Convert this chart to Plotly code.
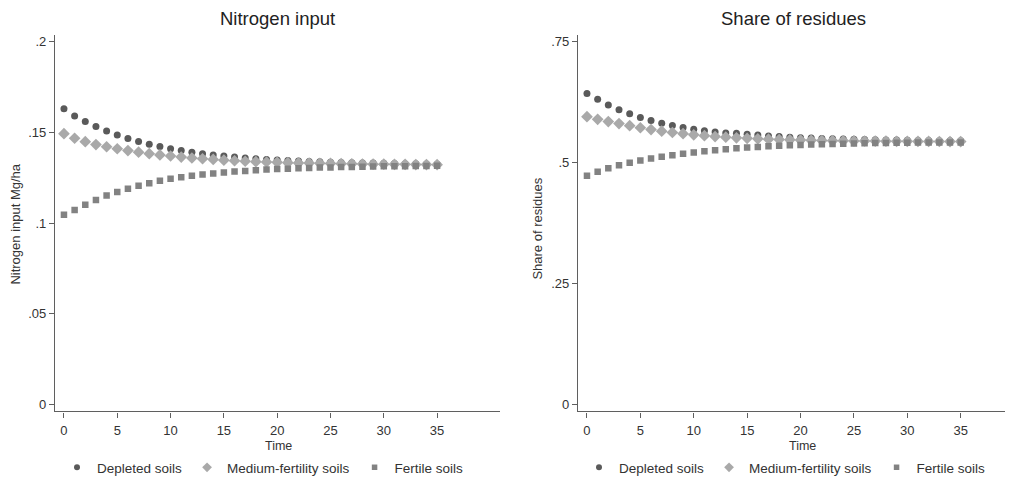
import plotly.graph_objects as go

time = list(range(36))

# Nitrogen input (Mg/ha)
n_depleted = [0.163, 0.159, 0.156, 0.1533, 0.1508, 0.1486, 0.1467, 0.145, 0.1435, 0.1422,
              0.141, 0.14, 0.1391, 0.1383, 0.1376, 0.137, 0.1364, 0.1359, 0.1355, 0.1351,
              0.1348, 0.1345, 0.1342, 0.134, 0.1338, 0.1336, 0.1334, 0.1333, 0.1332, 0.1331,
              0.133, 0.1329, 0.1328, 0.1327, 0.1326, 0.1325]
n_medium = [0.1493, 0.1468, 0.1449, 0.1433, 0.1421, 0.141, 0.14, 0.1391, 0.1383, 0.1376,
            0.137, 0.1364, 0.1359, 0.1355, 0.1351, 0.1347, 0.1344, 0.1341, 0.1339, 0.1337,
            0.1335, 0.1333, 0.1332, 0.1331, 0.133, 0.1329, 0.1328, 0.1327, 0.1326, 0.1325,
            0.1325, 0.1324, 0.1324, 0.1323, 0.1323, 0.1322]
n_fertile = [0.1046, 0.1073, 0.1101, 0.1128, 0.1152, 0.1172, 0.119, 0.1206, 0.122, 0.1233,
             0.1244, 0.1253, 0.1261, 0.1268, 0.1274, 0.1279, 0.1284, 0.1288, 0.1292, 0.1295,
             0.1298, 0.13, 0.1302, 0.1304, 0.1306, 0.1307, 0.1309, 0.131, 0.1311, 0.1312,
             0.1313, 0.1314, 0.1314, 0.1315, 0.1315, 0.1316]

# Share of residues
s_depleted = [0.643, 0.631, 0.6195, 0.6095, 0.601, 0.5935, 0.587, 0.5815, 0.5768, 0.5728,
              0.5693, 0.5663, 0.5637, 0.5614, 0.561, 0.5589, 0.557, 0.5554, 0.554, 0.5528,
              0.5518, 0.5509, 0.5501, 0.5494, 0.5488, 0.5483, 0.5478, 0.5474, 0.547, 0.5467,
              0.5464, 0.5461, 0.5458, 0.5456, 0.5454, 0.5452]
s_medium = [0.5952, 0.5897, 0.585, 0.5808, 0.5765, 0.5722, 0.5685, 0.5652, 0.5624, 0.5599,
            0.5577, 0.5558, 0.5541, 0.5527, 0.5514, 0.5503, 0.5494, 0.5486, 0.5479, 0.5473,
            0.5468, 0.5463, 0.5459, 0.5456, 0.5453, 0.545, 0.5448, 0.5446, 0.5444, 0.5442,
            0.5441, 0.544, 0.5439, 0.5438, 0.5437, 0.5436]
s_fertile = [0.4732, 0.4814, 0.4884, 0.4947, 0.5, 0.5045, 0.5086, 0.5123, 0.5155, 0.5184,
             0.5212, 0.5237, 0.5259, 0.5279, 0.5296, 0.5312, 0.5326, 0.5338, 0.5349, 0.5359,
             0.5367, 0.5375, 0.5382, 0.5388, 0.5393, 0.5398, 0.5402, 0.5405, 0.5408, 0.5411,
             0.5413, 0.5415, 0.5417, 0.5418, 0.5419, 0.542]

series_names = ["Depleted soils", "Medium-fertility soils", "Fertile soils"]
series_colors = ["#5a5a5a", "#a9a9a9", "#828282"]
series_symbols = ["circle", "diamond", "square"]
series_sizes = [7, 9, 6.5]
legend_sizes = [6, 7.5, 5.5]

left_tickvals = [0, 0.05, 0.1, 0.15, 0.2]
left_ticktext = ["0", ".05", ".1", ".15", ".2"]
right_tickvals = [0, 0.25, 0.5, 0.75]
right_ticktext = ["0", ".25", ".5", ".75"]
x_tickvals = [0, 5, 10, 15, 20, 25, 30, 35]

# page body has an 8px margin; figure sized to fill the rest of the window
OFF = 8
W, H = 1013 - OFF, 483 - OFF
FONT = "Liberation Sans, Arial, sans-serif"


def px(x):
    return (x - OFF) / W


def py(y):
    return 1 - (y - OFF) / H


fig = go.Figure()

left_data = [n_depleted, n_medium, n_fertile]
right_data = [s_depleted, s_medium, s_fertile]

for i in range(3):
    fig.add_trace(go.Scatter(
        x=time, y=left_data[i], mode="markers", name=series_names[i], showlegend=False,
        marker=dict(symbol=series_symbols[i], color=series_colors[i], size=series_sizes[i]),
        xaxis="x", yaxis="y"))
for i in range(3):
    fig.add_trace(go.Scatter(
        x=time, y=right_data[i], mode="markers", name=series_names[i], showlegend=False,
        marker=dict(symbol=series_symbols[i], color=series_colors[i], size=series_sizes[i]),
        xaxis="x2", yaxis="y2"))
# legend entries (small symbols as in the original)
for lg, xa, ya in (("legend", "x", "y"), ("legend2", "x2", "y2")):
    for i in range(3):
        fig.add_trace(go.Scatter(
            x=[None], y=[None], mode="markers", name=series_names[i], showlegend=True,
            marker=dict(symbol=series_symbols[i], color=series_colors[i], size=legend_sizes[i]),
            xaxis=xa, yaxis=ya, legend=lg))

ydom = [py(414), py(35)]

axis_common = dict(
    showgrid=False, zeroline=False, showline=True, linecolor="#5f5f5f", linewidth=1.2,
    ticks="outside", ticklen=5, tickcolor="#5f5f5f", tickwidth=1,
    tickfont=dict(family=FONT, size=13, color="#333333"),
)

legend_common = dict(orientation="h", xanchor="left", yanchor="top",
                     font=dict(family=FONT, size=13.5, color="#333333"),
                     itemsizing="trace", bgcolor="rgba(0,0,0,0)")

fig.update_layout(
    width=W, height=H,
    margin=dict(l=0, r=0, t=0, b=0),
    paper_bgcolor="white", plot_bgcolor="white",
    font=dict(family=FONT, color="#333333"),
    xaxis=dict(domain=[px(55), px(500)], range=[-0.84, 40.9], tickvals=x_tickvals,
               anchor="y", ticklabelstandoff=2, **axis_common),
    yaxis=dict(domain=ydom, range=[-0.0038, 0.2038], tickvals=left_tickvals,
               ticktext=left_ticktext, anchor="x", **axis_common),
    xaxis2=dict(domain=[px(578), 1.0], range=[-0.84, 39.9], tickvals=x_tickvals,
                anchor="y2", ticklabelstandoff=2, **axis_common),
    yaxis2=dict(domain=ydom, range=[-0.0144, 0.7644], tickvals=right_tickvals,
                ticktext=right_ticktext, anchor="x2", **axis_common),
    legend=dict(x=px(57), y=py(455), **legend_common),
    legend2=dict(x=px(579), y=py(455), **legend_common),
    showlegend=True,
)

annotations = [
    dict(text="Nitrogen input", x=px(277), y=py(19), xref="paper", yref="paper",
         showarrow=False, font=dict(family=FONT, size=18.5, color="#222222"),
         xanchor="center", yanchor="middle"),
    dict(text="Share of residues", x=px(793), y=py(19), xref="paper", yref="paper",
         showarrow=False, font=dict(family=FONT, size=18.5, color="#222222"),
         xanchor="center", yanchor="middle"),
    dict(text="Time", x=px(278), y=py(448.5), xref="paper", yref="paper",
         showarrow=False, font=dict(family=FONT, size=12.5, color="#333333"),
         xanchor="center", yanchor="middle"),
    dict(text="Time", x=px(802), y=py(448.5), xref="paper", yref="paper",
         showarrow=False, font=dict(family=FONT, size=12.5, color="#333333"),
         xanchor="center", yanchor="middle"),
    dict(text="Nitrogen input Mg/ha", x=px(16), y=py(226), xref="paper", yref="paper",
         showarrow=False, textangle=-90, font=dict(family=FONT, size=13, color="#333333"),
         xanchor="center", yanchor="middle"),
    dict(text="Share of residues", x=px(538), y=py(230), xref="paper", yref="paper",
         showarrow=False, textangle=-90, font=dict(family=FONT, size=13, color="#333333"),
         xanchor="center", yanchor="middle"),
]
fig.update_layout(annotations=annotations)

fig.write_html("out.html")
